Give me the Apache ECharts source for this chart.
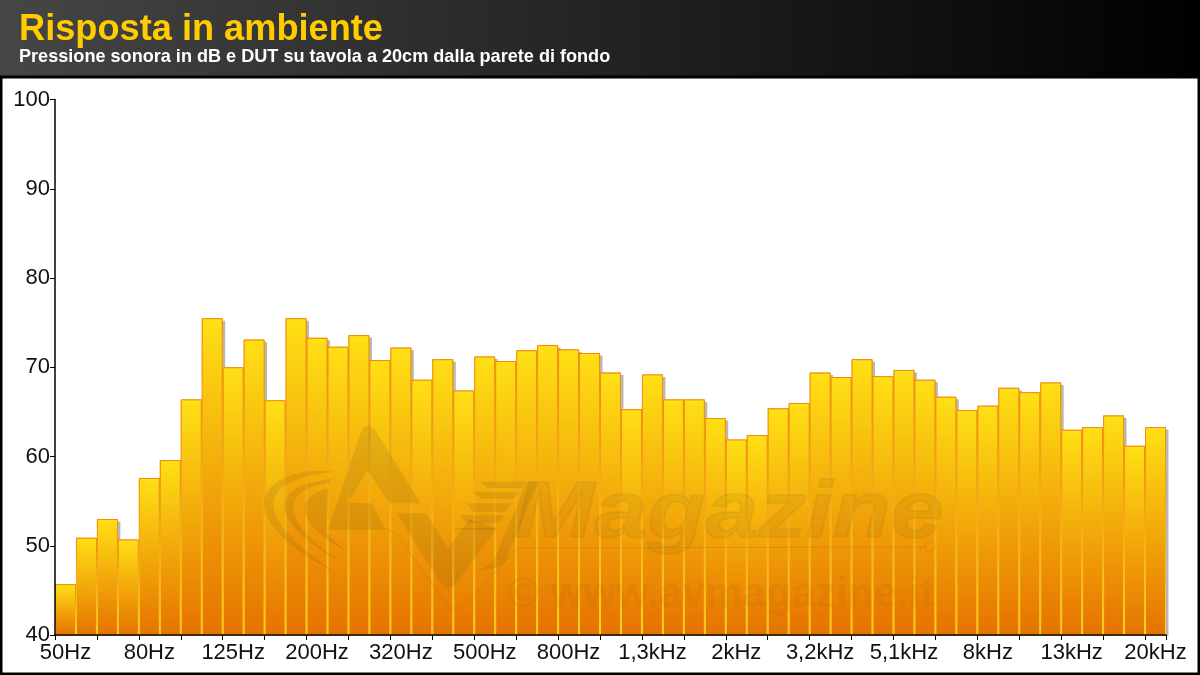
<!DOCTYPE html>
<html><head><meta charset="utf-8">
<style>html,body{margin:0;padding:0;background:#fff}#c{width:1200px;height:675px}</style>
<script src="https://cdn.jsdelivr.net/npm/echarts@6/dist/echarts.min.js"></script>
</head><body><div id="c"></div>
<script>
var titleText = 'Risposta in ambiente';
var subtitleText = 'Pressione sonora in dB e DUT su tavola a 20cm dalla parete di fondo';
var categories = ['50Hz','','','','80Hz','','','','125Hz','','','','200Hz','','','','320Hz','','','','500Hz','','','','800Hz','','','','1,3kHz','','','','2kHz','','','','3,2kHz','','','','5,1kHz','','','','8kHz','','','','13kHz','','','','20kHz'];
var values = [45.7,50.9,53,50.7,57.6,59.6,66.4,75.5,70,73.1,66.3,75.5,73.3,72.3,73.6,70.8,72.2,68.6,70.9,67.4,71.2,70.7,71.9,72.5,72,71.6,69.4,65.3,69.2,66.4,66.4,64.3,61.9,62.4,65.4,66,69.4,68.9,70.9,69,69.7,68.6,66.7,65.2,65.7,67.7,67.2,68.3,63,63.3,64.6,61.2,63.3];
var yMin = 40, yMax = 100, yStep = 10;

var FONT = '"Liberation Sans", Arial, sans-serif';
var LOGO = 'rgba(105,75,25,0.14)';
var chart = echarts.init(document.getElementById('c'), null, {renderer:'canvas'});

var pathCount = 0;
function pathEl(d, props){
  var name = 'wmPath' + (pathCount++);
  echarts.graphic.registerShape(name, echarts.graphic.extendPath(d, {}));
  return Object.assign({type:name, silent:true, z:50}, props);
}
var logo = [
 'M225,155 C100,140 10,190 12,255 C15,330 130,410 230,460 C140,400 40,320 40,255 C40,200 110,165 225,155 Z',
 'M215,178 C130,185 70,215 72,260 C75,320 170,385 240,425 C170,375 100,320 100,262 C100,220 150,195 208,190 Z',
 'M205,205 C160,215 130,240 135,275 C140,315 200,365 262,395 C225,365 205,345 200,335 Z',
 'M305,30 Q325,5 345,30 L482,250 L388,250 L322,150 L265,248 L335,250 L378,330 L205,330 Z',
 'M410,280 L498,280 L565,385 L628,298 L712,325 L585,495 Q565,515 545,495 Z',
 'M660,185 L800,185 L785,204 L682,204 Z','M640,216 L778,216 L760,236 L662,236 Z',
 'M620,250 L755,250 L735,275 L640,275 Z','M600,286 L735,286 L715,310 L620,310 Z',
 'M580,324 L712,324 L702,330 L590,330 Z',
 'M800,186 L835,186 L735,425 Q705,452 665,448 L700,425 Z'
].map(function(d){return pathEl(d,{x:260,y:420,scaleX:1/3,scaleY:1/3,style:{fill:LOGO}});});
var hair = pathEl('M388,530 Q394,530 398,536 L448,606 Q456,614 464,606 L517,548 L925,547 M935,547 A5,5 0 1 1 925,547 A5,5 0 1 1 935,547 Z',
  {style:{fill:null, stroke:'rgba(105,75,25,0.16)', lineWidth:1}});

var barFill = new echarts.graphic.LinearGradient(0,0,0,1,[{offset:0,color:'#FFE015'},{offset:1,color:'#E57200'}]);
var barEdge = new echarts.graphic.LinearGradient(0,0,0,1,[{offset:0,color:'#F08A10'},{offset:1,color:'#FFD51E'}]);

var option = {
  animation:false,
  backgroundColor:'#ffffff',
  title:[
    {text:titleText, left:19, top:11, padding:0,
     textStyle:{color:'#FFCC00', fontFamily:FONT, fontWeight:'bold', fontSize:36.2, lineHeight:38}},
    {text:subtitleText, left:19, top:47, padding:0,
     textStyle:{color:'#FFFFFF', fontFamily:FONT, fontWeight:'bold', fontSize:18.1, lineHeight:20}}
  ],
  grid:{left:55, right:34, top:99.5, bottom:40, containLabel:false},
  xAxis:{type:'category', data:categories, boundaryGap:true, z:10,
    axisLine:{show:true, lineStyle:{color:'#000', width:1.5}},
    axisTick:{show:true, interval:1, length:5, lineStyle:{color:'#000', width:1}},
    axisLabel:{interval:3, color:'#111', fontFamily:FONT, fontSize:22, margin:7, hideOverlap:false},
    splitLine:{show:false}},
  yAxis:{type:'value', min:yMin, max:yMax, interval:yStep, z:10,
    axisLine:{show:true, lineStyle:{color:'#000', width:1.5}},
    axisTick:{show:true, length:5, lineStyle:{color:'#000', width:1}},
    axisLabel:{color:'#111', fontFamily:FONT, fontSize:22, margin:5},
    splitLine:{show:false}},
  series:[
    {type:'bar', data:values, barCategoryGap:'0%', barGap:'-100%', z:4, silent:true,
     itemStyle:{color:'#E8A000', shadowColor:'rgba(0,0,0,0.28)', shadowBlur:0, shadowOffsetX:2.5, shadowOffsetY:2.5}},
    {type:'bar', data:values, barCategoryGap:'0%', barGap:'-100%', z:5,
     itemStyle:{color:barFill, borderColor:barEdge, borderWidth:1}}
  ],
  graphic:[
    {type:'rect', z:-10, silent:true, shape:{x:0,y:0,width:1200,height:78},
     style:{fill:new echarts.graphic.LinearGradient(0,0,1,0,[{offset:0,color:'#464646'},{offset:1,color:'#000000'}])}},
    {type:'rect', z:-9, silent:true, shape:{x:0,y:76,width:1200,height:2}, style:{fill:'#000'}},
    {type:'rect', z:6, silent:true, shape:{x:50,y:636,width:1130,height:5}, style:{fill:'#fff'}},
    {type:'rect', z:60, silent:true, shape:{x:1,y:77,width:1198,height:597},
     style:{fill:null, stroke:'#000', lineWidth:3}}
  ].concat(logo).concat([
    hair,
    {type:'text', x:515, y:475, silent:true, z:50, scaleX:1.19, scaleY:1,
     style:{text:'Magazine', font:'italic bold 80px '+FONT, fill:'rgba(105,75,25,0.08)', stroke:'rgba(105,75,25,0.07)', lineWidth:2}},
    {type:'text', x:508, y:574, silent:true, z:50,
     style:{text:'\u00A9 www.avmagazine.it', font:'bold 42px '+FONT, fill:'rgba(170,80,0,0.1)'}}
  ])
};
chart.setOption(option);
</script></body></html>
